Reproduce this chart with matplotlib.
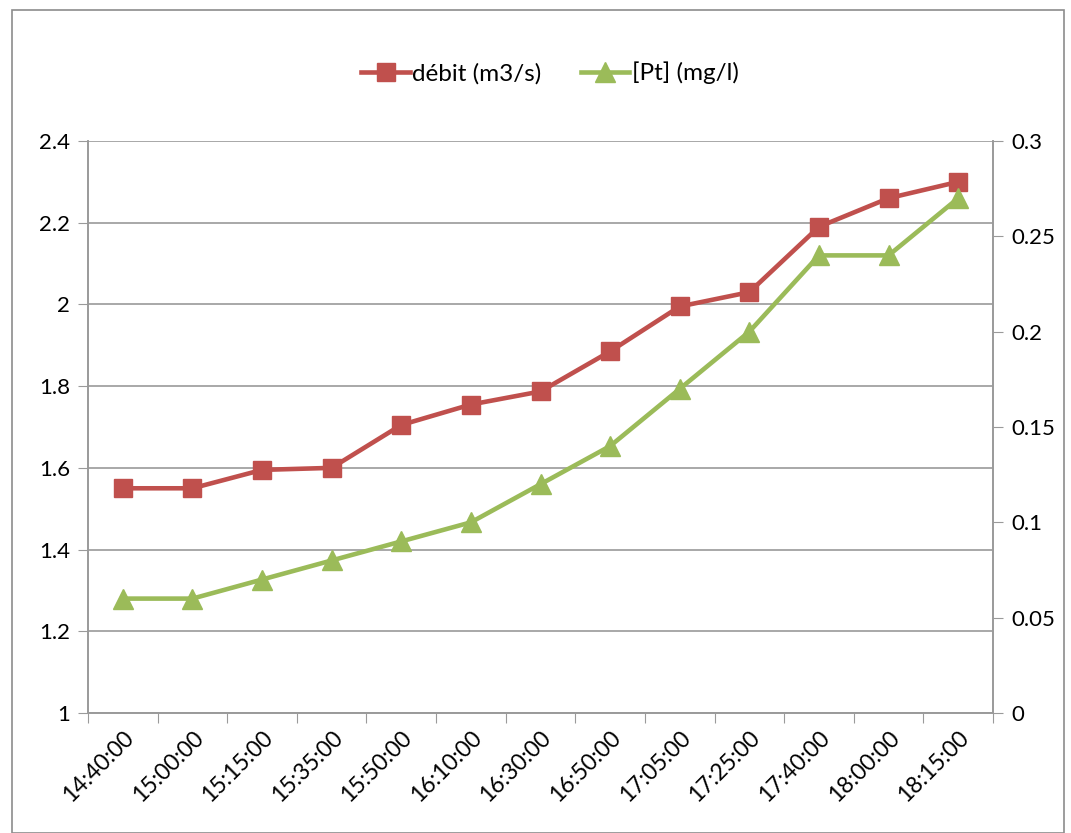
import matplotlib.pyplot as plt
from matplotlib.patches import Rectangle

times = ["14:40:00", "15:00:00", "15:15:00", "15:35:00", "15:50:00", "16:10:00", "16:30:00",
         "16:50:00", "17:05:00", "17:25:00", "17:40:00", "18:00:00", "18:15:00"]
debit = [1.55, 1.55, 1.595, 1.60, 1.705, 1.755, 1.787, 1.885, 1.995, 2.03, 2.19, 2.26, 2.30]
pt = [0.06, 0.06, 0.07, 0.08, 0.09, 0.10, 0.12, 0.14, 0.17, 0.20, 0.24, 0.24, 0.27]

red = "#C0504D"
green = "#9BBB59"
gray = "#9A9A9A"

plt.rcParams['font.family'] = ['Lato', 'DejaVu Sans']

fig = plt.figure(figsize=(10.71, 8.33), dpi=100)
fig.patches.append(Rectangle((12 / 1071, 0), 1052 / 1071, 823 / 833, transform=fig.transFigure,
                             fill=False, edgecolor="#8C8C8C", linewidth=1.2))
ax = fig.add_axes([88 / 1071, 120 / 833, 905 / 1071, 572 / 833])
ax2 = ax.twinx()

x = list(range(len(times)))
l1, = ax.plot(x, debit, color=red, lw=3.3, marker="s", ms=13.5, label="débit (m3/s)", zorder=3)
l2, = ax2.plot(x, pt, color=green, lw=3.3, marker="^", ms=14.5, label="[Pt] (mg/l)", zorder=3)

ax.set_xlim(-0.5, len(times) - 0.5)
ax.set_ylim(1, 2.4)
ax2.set_ylim(0, 0.3)
ax.set_yticks([1, 1.2, 1.4, 1.6, 1.8, 2, 2.2, 2.4])
ax.set_yticklabels(["1", "1.2", "1.4", "1.6", "1.8", "2", "2.2", "2.4"])
ax2.set_yticks([0, 0.05, 0.1, 0.15, 0.2, 0.25, 0.3])
ax2.set_yticklabels(["0", "0.05", "0.1", "0.15", "0.2", "0.25", "0.3"])

ax.set_xticks([i - 0.5 for i in range(len(times) + 1)])
ax.set_xticklabels([])
ax.set_xticks(x, minor=True)
ax.set_xticklabels(times, minor=True, rotation=45, ha="right", rotation_mode="anchor")
ax.tick_params(axis="x", which="minor", length=0, pad=10, labelsize=16.5)
ax.tick_params(axis="x", which="major", length=7, color=gray)
ax.tick_params(axis="y", length=7, color=gray, labelsize=16, pad=6)
ax2.tick_params(axis="y", length=7, color=gray, labelsize=16, pad=6)

ax.yaxis.grid(True, color=gray, lw=1.2)
ax.set_axisbelow(True)
for a in (ax, ax2):
    a.spines["top"].set_visible(False)
    for s in ("left", "right", "bottom"):
        a.spines[s].set_color(gray)
        a.spines[s].set_linewidth(1.2)

fig.legend([l1, l2], ["débit (m3/s)", "[Pt] (mg/l)"], loc="center", bbox_to_anchor=(550 / 1071, 1 - 73 / 833),
           ncol=2, frameon=False, fontsize=17.5, handlelength=2.0, columnspacing=1.6, handletextpad=0.1)

fig.savefig("out.png", dpi=100)
